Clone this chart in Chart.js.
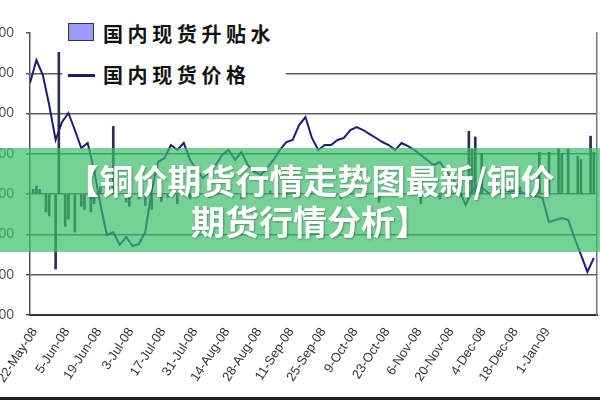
<!DOCTYPE html>
<html>
<head>
<meta charset="utf-8">
<script src="https://cdn.jsdelivr.net/npm/chart.js@4.4.1/dist/chart.umd.min.js"></script>
<style>
  html, body { margin: 0; padding: 0; background: #fff; }
  #wrap { position: relative; width: 600px; height: 400px; overflow: hidden; background: #fff; }
  #chart { position: absolute; left: -40px; top: 0; }
  #legend { position: absolute; left: 62px; top: 12px; width: 224px; height: 84px; background: #fff;
    font-family: "Noto Sans CJK SC", sans-serif; font-weight: bold; font-size: 20px; color: #111; }
  #legend .txt { position: absolute; left: 41px; height: 24px; line-height: 24px; letter-spacing: 4.6px; white-space: nowrap; }
  #legend .swbar { position: absolute; left: 6px; top: 11px; width: 24px; height: 16px; background: #9999ff; border: 1.5px solid #333; }
  #legend .swline { position: absolute; left: 6px; top: 62px; width: 27px; height: 3px; background: #1c1c78; }
  #band { position: absolute; left: 0; top: 148px; width: 600px; height: 104px; background: rgba(60, 190, 105, 0.7); }
  #band .t { padding-top: 11px; padding-left: 20px; color: #fff; font-family: "Noto Sans CJK SC", sans-serif;
    font-weight: bold; font-size: 34px; line-height: 41px; text-align: center; text-shadow: 1px 1px 2px rgba(0,0,0,0.3); }
  #bottom { position: absolute; left: 0; top: 397px; width: 600px; height: 3px; background: #222; }
</style>
</head>
<body>
<div id="wrap">
  <canvas id="chart" width="680" height="400"></canvas>
  <div id="legend">
    <div class="swbar"></div>
    <div class="txt" style="top:10px">国内现货升贴水</div>
    <div class="swline"></div>
    <div class="txt" style="top:51px">国内现货价格</div>
  </div>
  <div id="band"><div class="t">【铜价期货行情走势图最新/铜价<br>期货行情分析】</div></div>
  <div id="bottom"></div>
</div>
<script>
// tick labels on the date axis
const xLabels = ['22-May-08', '5-Jun-08', '19-Jun-08', '3-Jul-08', '17-Jul-08', '31-Jul-08',
  '14-Aug-08', '28-Aug-08', '11-Sep-08', '25-Sep-08', '9-Oct-08', '23-Oct-08',
  '6-Nov-08', '20-Nov-08', '4-Dec-08', '18-Dec-08', '1-Jan-09'];
const labelDays = [1.5, 11.5, 21.5, 31.5, 41.5, 51.5, 61.5, 71.5, 81.5, 91.5,
  101.5, 111.5, 121.5, 131.5, 141.5, 151.5, 161.5];

// 国内现货价格, one reading every 2 trading days
const priceValues = [
  58790, 61650, 59780, 56060, 51720, 53950, 55070, 52960, 50720, 51350,
  48000, 43650, 39930, 40300, 38690, 39680, 38560, 38810, 40300, 45510,
  48990, 49480, 51100, 50480, 51350, 49240, 48000, 47000, 47750, 48620,
  49860, 50480, 49240, 50230, 48620, 47750, 47370, 48240, 49240, 50480,
  51470, 51720, 53580, 54570, 51970, 50480, 51100, 51100, 51720, 51970,
  52960, 53330, 52960, 52460, 51970, 51470, 51100, 50480, 51350, 50970,
  50480, 49860, 49240, 48620, 48990, 47750, 47000, 45510, 43650, 45510,
  46130, 45510, 44890, 45140, 45510, 45260, 45510, 45140, 44890, 44770,
  44520, 41540, 41790, 42040, 41790, 39560, 37450, 35340, 37070
];

// 国内现货升贴水
const premDays = [1, 2, 3, 5, 6, 8, 9, 11, 12, 14, 16, 17, 19, 20, 22, 26, 30, 31, 34, 36,
  38, 41, 43, 46, 50, 56, 66, 75, 84, 97, 109, 122, 128, 137, 138, 139, 141, 147, 153,
  159, 162, 165, 166, 168, 171, 172, 175, 176];
const premValues = [60, 100, 60, -220, -270, -930, 1760, -400, -310, -470, -150, -190, -220, -120,
  90, 840, -100, -150, -60, -140, -190, -90, -40, -120, -60, -40, -60, 40, -40, -60, -100,
  -120, -60, 780, 560, 710, 500, 60, 90, 520, 520, 560, 500, 560, 470, 430, 720, 520];

new Chart(document.getElementById('chart'), {
  type: 'line',
  data: {
    datasets: [
      {
        type: 'line',
        label: '国内现货价格',
        data: priceValues.map((v, i) => ({ x: i * 2, y: v })),
        yAxisID: 'y',
        borderColor: '#1c1c78',
        borderWidth: 2,
        pointRadius: 0,
        tension: 0,
        order: 1
      },
      {
        type: 'bar',
        label: '国内现货升贴水',
        data: premDays.map((d, i) => ({ x: d, y: premValues[i] })),
        yAxisID: 'y1',
        backgroundColor: '#2e2e50',
        barThickness: 2,
        order: 2
      }
    ]
  },
  options: {
    responsive: false,
    animation: false,
    devicePixelRatio: 1,
    layout: { padding: { top: 33, left: 0, right: 0, bottom: 0 } },
    plugins: { legend: { display: false }, tooltip: { enabled: false } },
    scales: {
      x: {
        type: 'linear', min: 0, max: 177, offset: false,
        afterFit: s => { s.height = 85; },
        afterBuildTicks: s => { s.ticks = labelDays.map(v => ({ value: v })); },
        grid: { drawOnChartArea: false, drawTicks: false, offset: false },
        border: { color: '#333', width: 2 },
        ticks: {
          autoSkip: false, minRotation: 57, maxRotation: 57, padding: 10,
          color: '#333', font: { family: 'Arial', size: 13 },
          callback: (v, i) => xLabels[i]
        }
      },
      y: {
        position: 'left', min: 30000, max: 65000,
        afterFit: s => { s.width = 70; },
        ticks: { stepSize: 5000, padding: 12, color: '#555', font: { family: 'Arial', size: 14 } },
        grid: {
          color: c => (c.tick.value === 30000 || c.tick.value === 65000) ? 'rgba(0,0,0,0)' : '#5a5a5a',
          lineWidth: 1.5, tickLength: 4, tickColor: '#555'
        },
        border: { color: '#555', width: 1.5 }
      },
      y1: {
        position: 'right', min: -1500, max: 2000,
        afterFit: s => { s.width = 43; },
        ticks: { stepSize: 500 },
        grid: { drawOnChartArea: false, tickLength: 4 },
        border: { color: '#777', width: 1.5 }
      }
    }
  }
});
</script>
</body>
</html>
